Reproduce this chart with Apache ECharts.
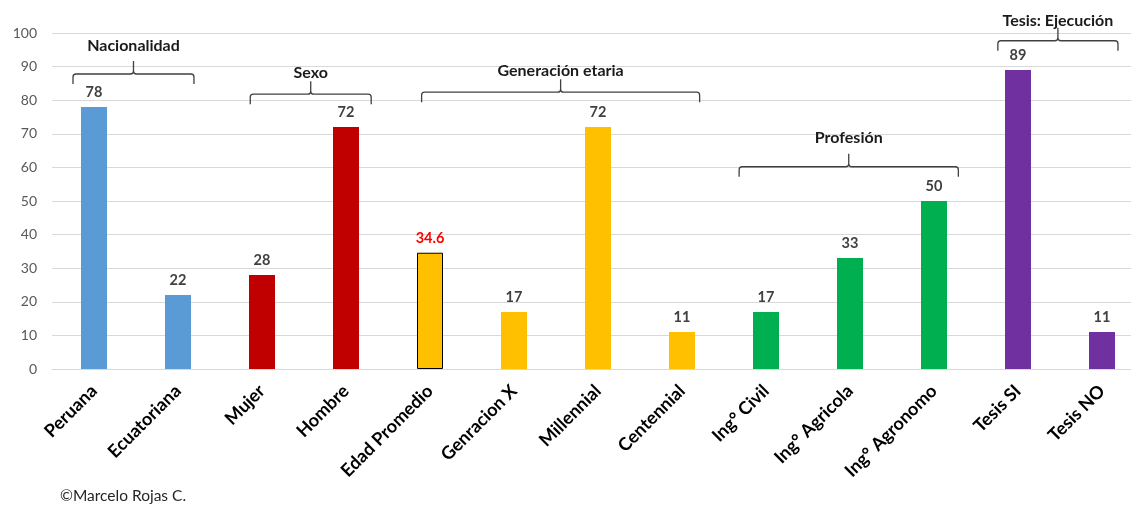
<!DOCTYPE html>
<html>
<head>
<meta charset="utf-8">
<script src="https://cdn.jsdelivr.net/npm/echarts@6/dist/echarts.min.js"></script>
<style>
html,body{margin:0;padding:0;background:#fff;overflow:hidden;width:1131px;height:505px;}
#chart{width:1144px;height:505px;}
</style>
</head>
<body>
<div id="chart"></div>
<script>
// ---- data ----
const categories = ['Peruana','Ecuatoriana','Mujer','Hombre','Edad Promedio','Genracion X','Millennial','Centennial','Ing° Civil','Ing° Agricola','Ing° Agronomo','Tesis SI','Tesis NO'];
const values = [78, 22, 28, 72, 34.6, 17, 72, 11, 17, 33, 50, 89, 11];
const yTicks = [0, 10, 20, 30, 40, 50, 60, 70, 80, 90, 100];

// group brackets: name, span in category units, bracket line value, label value
const groupNames = ['Nacionalidad', 'Sexo', 'Generación etaria', 'Profesión', 'Tesis: Ejecución'];
const groupFrom  = [-0.25, 1.86, 3.9, 7.68, 10.76];
const groupTo    = [1.19, 3.3, 7.21, 10.29, 12.19];
const groupLine  = [87.8, 81.8, 82.4, 60.2, 97.7];
const groupLabel = [96.1, 88.1, 88.8, 68.75, 103.7];

const copyright = '©Marcelo Rojas C.';

// ---- styles ----
const barColors = ['#5B9BD5','#5B9BD5','#C00000','#C00000','#FFC000','#FFC000','#FFC000','#FFC000','#00B050','#00B050','#00B050','#7030A0','#7030A0'];
const FONT = 'Lato';

const chart = echarts.init(document.getElementById('chart'), null, {renderer: 'canvas'});

const barData = values.map((v, i) => {
  const item = {value: v, itemStyle: {color: barColors[i]}};
  if (i === 4) {
    item.itemStyle.borderColor = '#000';
    item.itemStyle.borderWidth = 1;
    item.label = {color: '#FF0000'};
  }
  return item;
});

const bracketData = groupNames.map((n, i) => [groupFrom[i], groupTo[i], groupLine[i], groupLabel[i]]);

const option = {
  animation: false,
  backgroundColor: '#fff',
  grid: {left: 52, right: 0, top: 33, bottom: 136, containLabel: false},
  xAxis: [{
    type: 'category',
    data: categories,
    axisLine: {show: true, lineStyle: {color: '#D9D9D9', width: 1}},
    axisTick: {show: false},
    axisLabel: {
      interval: 0, rotate: 45, margin: 19,
      fontFamily: FONT, fontWeight: 'bold', fontSize: 18, color: '#000'
    }
  }, {
    type: 'value', min: -0.5, max: 12.5, show: false
  }],
  yAxis: {
    type: 'value', min: yTicks[0], max: yTicks[yTicks.length - 1], interval: yTicks[1] - yTicks[0],
    axisLine: {show: false}, axisTick: {show: false},
    axisLabel: {margin: 15, fontFamily: FONT, fontSize: 14, color: '#595959'},
    splitLine: {lineStyle: {color: '#D9D9D9', width: 1}}
  },
  series: [{
    type: 'bar',
    data: barData,
    barWidth: 26,
    label: {
      show: true, position: 'top', distance: 7,
      fontFamily: FONT, fontWeight: 'bold', fontSize: 14.5, color: '#404040'
    }
  }, {
    type: 'custom',
    xAxisIndex: 1,
    yAxisIndex: 0,
    clip: false,
    silent: true,
    encode: {x: [0, 1], y: [2, 3]},
    data: bracketData,
    renderItem: function (params, api) {
      const a = api.coord([api.value(0), api.value(2)]);
      const b = api.coord([api.value(1), api.value(2)]);
      const l = api.coord([(api.value(0) + api.value(1)) / 2, api.value(3)]);
      const y = a[1], x1 = a[0], x2 = b[0], xm = (x1 + x2) / 2;
      const r = 3, arm = 10, tip = 13;
      const d = 'M' + x1 + ' ' + (y + arm) + ' L' + x1 + ' ' + (y + r) +
        ' Q' + x1 + ' ' + y + ' ' + (x1 + r) + ' ' + y +
        ' L' + (xm - r) + ' ' + y + ' Q' + xm + ' ' + y + ' ' + xm + ' ' + (y - r) +
        ' L' + xm + ' ' + (y - tip) +
        ' M' + xm + ' ' + (y - r) + ' Q' + xm + ' ' + y + ' ' + (xm + r) + ' ' + y +
        ' L' + (x2 - r) + ' ' + y + ' Q' + x2 + ' ' + y + ' ' + x2 + ' ' + (y + r) +
        ' L' + x2 + ' ' + (y + arm);
      return {
        type: 'group',
        children: [{
          type: 'path',
          shape: {pathData: d},
          style: {fill: null, stroke: '#404040', lineWidth: 1.3}
        }, {
          type: 'text',
          x: l[0], y: l[1],
          style: {
            text: groupNames[params.dataIndex],
            fontFamily: FONT, fontWeight: 'bold', fontSize: 16, fill: '#1a1a1a',
            align: 'center', verticalAlign: 'middle'
          }
        }]
      };
    }
  }],
  graphic: [{
    type: 'text', left: 60, top: 488,
    style: {text: copyright, fontFamily: FONT, fontSize: 15.5, fill: '#262626'}
  }]
};

chart.setOption(option);
</script>
</body>
</html>
